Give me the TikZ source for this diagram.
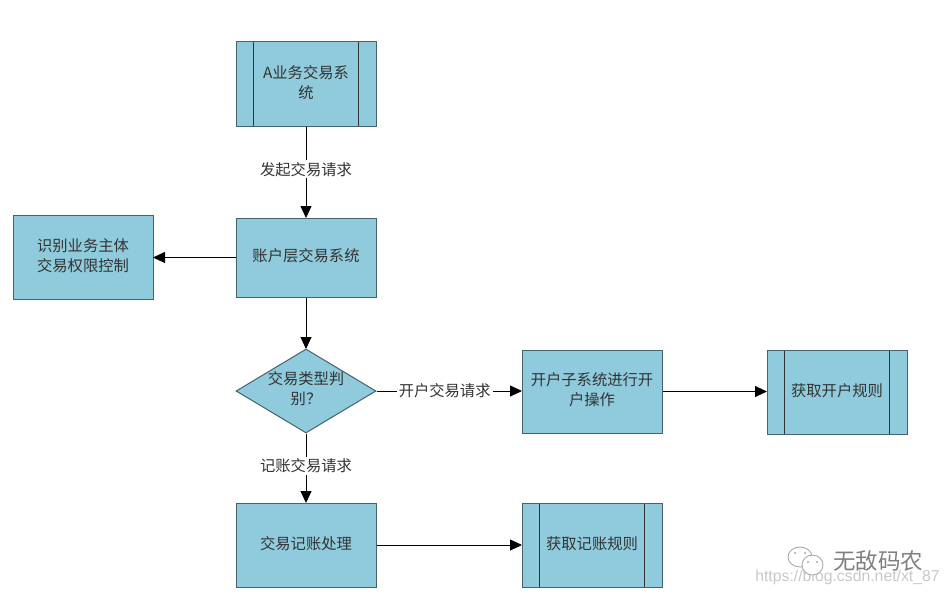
\documentclass[tikz,border=0pt]{standalone}
\usepackage{fontspec}
\setmainfont{Liberation Sans}
\newfontfamily\cjk{Noto Sans CJK SC}
\usetikzlibrary{arrows.meta,shapes.geometric}
\definecolor{boxfill}{HTML}{8FCBDC}
\definecolor{boxline}{HTML}{46626C}
\definecolor{wmark}{HTML}{C8C8C8}
\newcommand{\labelfont}{\cjk\fontsize{15.3}{20}\selectfont}
\tikzset{
  basebox/.style={draw=boxline,line width=1pt,fill=boxfill,minimum width=140pt,minimum height=84pt,
    inner sep=0pt,text width=126pt,align=center,font=\labelfont,text=black!80,
    execute at end node={\par\vspace{3pt}}},
  procbox/.style={basebox},
  subbox/.style={basebox,text width=100pt,path picture={
    \draw[black!80,line width=0.9pt] ([xshift=17.5pt]path picture bounding box.north west) -- ([xshift=17.5pt]path picture bounding box.south west);
    \draw[black!80,line width=0.9pt] ([xshift=-17.5pt]path picture bounding box.north east) -- ([xshift=-17.5pt]path picture bounding box.south east);}},
  decide/.style={draw=boxline,line width=1pt,fill=boxfill,diamond,aspect=1.667,minimum width=140pt,minimum height=84pt,inner sep=0pt},
  conn/.style={draw=black,line width=0.9pt,-{Triangle[length=12pt,width=11pt]},shorten >=-0.5pt},
  lab/.style={fill=white,inner xsep=2pt,inner ysep=2pt,font=\labelfont,text=black!80},
  wm/.style={text=wmark,inner sep=0pt},
  wmicon/.style={draw=wmark!85!black,line width=0.9pt,fill=white},
  wmdot/.style={fill=wmark!85!black,draw=none}
}
\begin{document}
\begin{tikzpicture}[x=1pt,y=-1pt]
\useasboundingbox (0,0) rectangle (948,594);
\node[subbox] (a) at (306,84) {A业务交易系\\统};
\node[procbox,minimum height=79pt] (acct) at (306,257.5) {账户层交易系统};
\node[procbox] (id) at (83,257) {识别业务主体\\交易权限控制};
\node[decide] (judge) at (306,391) {};
\node[font=\labelfont,text=black!80,align=center,inner sep=0pt] (judgetext) at (306,389) {交易类型判\\别？};
\node[procbox,minimum height=83pt] (open) at (592,391.5) {开户子系统进行开\\户操作};
\node[subbox] (openrule) at (837,392) {获取开户规则};
\node[procbox] (book) at (306,545) {交易记账处理};
\node[subbox] (bookrule) at (592,545) {获取记账规则};

\draw[conn] (a) -- node[lab,pos=0.47] (l1) {发起交易请求} (acct);
\draw[conn] (acct.west) -- (acct.west -| id.east);
\draw[conn] (acct) -- (judge);
\draw[conn] (judge.east) -- node[lab,pos=0.47] (l2) {开户交易请求} (judge.east -| open.west);
\draw[conn] (judge) -- node[lab,pos=0.47] (l3) {记账交易请求} (book);
\draw[conn] (open.east) -- (open.east -| openrule.west);
\draw[conn] (book) -- (bookrule);

\node[wm,font=\cjk\fontsize{22.5}{24}\selectfont,text=black!50] (wmname) at (878,561) {无敌码农};
\node[wm,font=\fontsize{15.8}{18}\selectfont] (wmurl) at (847.5,577) {https://blog.csdn.net/xt\_87};
\draw[wmicon] (800,557) ellipse (12pt and 10pt);
\fill[wmdot] (795,553) circle (1.1pt) (805,553) circle (1.1pt);
\draw[wmicon] (812.5,565) ellipse (10.5pt and 10pt);
\fill[wmdot] (808,562) circle (1.1pt) (817,562) circle (1.1pt);
\end{tikzpicture}
\end{document}
